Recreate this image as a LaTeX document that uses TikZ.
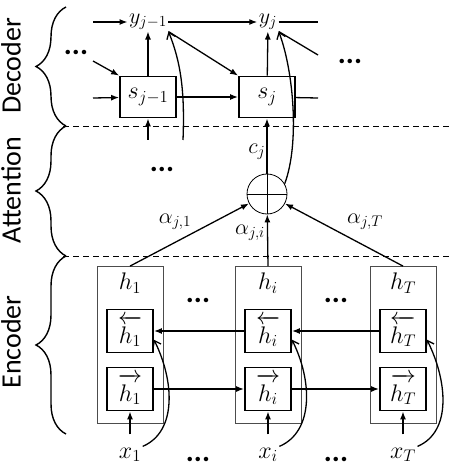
\RequirePackage{fix-cm}
\documentclass[tikz,border=0pt]{standalone}
\usepackage{fontspec}
\setsansfont{Carlito}
\usetikzlibrary{arrows.meta,decorations.pathreplacing}

\begin{document}
\begin{tikzpicture}[x=1pt,y=-1pt,line width=1.3pt,>={Latex[length=8pt,width=6pt]}]
    \tikzstyle{cell}=[draw,line width=1.8pt,minimum width=46pt,minimum height=43pt,inner sep=0pt,font=\fontsize{24}{26}\selectfont]
    \tikzstyle{dec}=[draw,line width=1.8pt,minimum width=56pt,minimum height=41pt,inner sep=0pt,font=\fontsize{24}{26}\selectfont]
    \tikzstyle{column}=[draw=black!70,line width=0.8pt,minimum width=66pt,minimum height=157pt,inner sep=0pt]
    \tikzstyle{lbl}=[inner sep=1pt,font=\fontsize{24}{26}\selectfont]
    \tikzstyle{small}=[inner sep=1pt,font=\fontsize{22}{24}\selectfont]
    \tikzstyle{dots}=[inner sep=0pt,font=\fontsize{30}{32}\sffamily\bfseries]
    \tikzstyle{layer}=[rotate=90,font=\fontsize{28}{30}\sffamily]
    \tikzstyle{split}=[dash pattern=on 6pt off 4pt,line width=0.6pt]
    \tikzstyle{brc}=[decorate,decoration={brace,amplitude=30pt},line width=1.4pt]
    \tikzstyle{loop}=[->,>={Straight Barb[length=6pt,width=9pt]}]

    \useasboundingbox (0,0) rectangle (452,473);

    % layer names and braces
    \node[layer] (lab-D) at (11,66) {Decoder};
    \node[layer] (lab-A) at (11,190) {Attention};
    \node[layer] (lab-E) at (11,342) {Encoder};
    \draw[brc] (66,126) -- (66,7);
    \draw[brc] (66,256) -- (66,126);
    \draw[brc] (66,434) -- (66,256);
    \draw[split] (63,126) -- (452,126);
    \draw[split] (63,256) -- (452,256);

    % encoder columns
    \foreach \n/\x in {1/130,i/268,T/403} {
      \node[column] (H-\n) at (\x,345) {};
      \node[lbl] (L-\n) at (\x,283) {$h_\n$};
      \node[cell] (B-\n) at (\x,331) {$\overleftarrow{\rule{0pt}{20pt}h_\n}$};
      \node[cell] (F-\n) at (\x,389) {$\overrightarrow{\rule{0pt}{20pt}h_\n}$};
      \node[lbl] (X-\n) at (\x,455) {$x_\n$};
      \draw[->] ([yshift=12pt]X-\n.north) -- (F-\n);
      \draw[loop] (X-\n.north east) .. controls +(35,-15) and +(20,40) .. (B-\n.-20);
    }
    \draw[->] (B-T) -- (B-i);
    \draw[->] (B-i) -- (B-1);
    \draw[->] (F-1) -- (F-i);
    \draw[->] (F-i) -- (F-T);
    \foreach \x/\y in {198/300,336/300,198/459,336/459}
    \node[dots] at (\x,\y) {...};

    % attention
    \node[draw,circle,minimum size=40pt,inner sep=0pt,line width=0.8pt] (Sum) at (267,194) {};
    \draw[line width=0.8pt] (Sum.north) -- (Sum.south) (Sum.west) -- (Sum.east);
    \draw[->] (H-1.north) -- (Sum);
    \draw[->] (H-i.north) -- (Sum);
    \draw[->] (H-T.north) -- (Sum);
    \node[small] (a-1) at (175,222) {$\alpha_{j,1}$};
    \node[small] (a-i) at (250,233) {$\alpha_{j,i}$};
    \node[small] (a-T) at (365,222) {$\alpha_{j,T}$};
    \node[dots] (d-att) at (162,169) {...};

    % decoder
    \node[small] (Y-1) at (148,22) {$y_{j-1}$};
    \node[small] (Y-2) at (268,22) {$y_j$};
    \node[dec] (S-1) at (148,97) {$s_{j-1}$};
    \node[dec] (S-2) at (267,97) {$s_j$};
    \node[dots] (d-l) at (76,52) {...};
    \node[dots] (d-r) at (350,61) {...};
    \coordinate (in-y) at (93,22);
    \coordinate (in-d) at (93,61);
    \coordinate (in-s) at (93,98);
    \coordinate (out-y) at (318,22);
    \coordinate (out-d) at (318,55);
    \coordinate (out-s) at (318,98);
    \coordinate (c-prev) at (148,140);
    \coordinate (fb-prev) at (183,140);
    \draw[->] (in-y) -- (Y-1);
    \draw[->] (Y-1) -- (Y-2);
    \draw (Y-2) -- (out-y);
    \draw[->] (in-s) -- (S-1);
    \draw[->] (S-1) -- (S-2);
    \draw (S-2) -- (out-s);
    \draw[->] (in-d) -- (S-1.north west);
    \draw[->] (Y-1.south east) -- (S-2.north west);
    \draw (Y-2.south east) -- (out-d);
    \draw[->] (S-1) -- (Y-1);
    \draw[->] (S-2) -- (Y-2);
    \draw[->] (c-prev) -- (S-1);
    \draw[->] (Sum) -- (S-2) node[small,left,pos=0.4] (c-j) {$c_j$};
    \draw[loop] (fb-prev) .. controls +(2,-50) and +(12,30) .. (Y-1.south east);
    \draw[loop] (Sum.30) .. controls +(15,-40) and +(15,40) .. (Y-2.south east);
\end{tikzpicture}
\end{document}
